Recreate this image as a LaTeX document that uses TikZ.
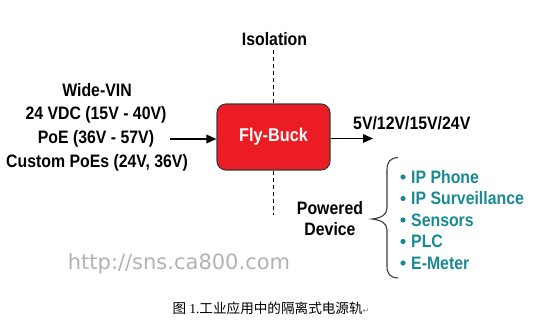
\documentclass[tikz,border=0pt]{standalone}
\usepackage{fontspec}
\setmainfont{Liberation Sans}
\newfontfamily\condb{Liberation Sans Bold}[FakeStretch=0.88]
\newfontfamily\cjk{Noto Sans CJK SC}
\newfontfamily\serifnum{Liberation Serif}
\newfontfamily\dejavu{DejaVu Sans}
\usetikzlibrary{arrows.meta}
\definecolor{flyred}{HTML}{EC1C24}
\definecolor{teal}{HTML}{198A94}
\definecolor{boxedge}{HTML}{3A3A3A}
\tikzset{
  lbl/.style={inner sep=0pt, font=\condb\fontsize{18}{20}\selectfont, text=black},
  item/.style={inner sep=0pt, anchor=west, font=\condb\fontsize{18}{20}\selectfont, text=teal},
  arr/.style={line width=1.8pt, -{Triangle[length=10pt,width=8.5pt]}},
  iso/.style={line width=1.2pt, dash pattern=on 4pt off 3pt},
  flybox/.style={draw=boxedge, line width=1.1pt, fill=flyred, rounded corners=9pt,
     minimum width=113pt, minimum height=66pt, inner sep=0pt,
     font=\condb\fontsize{18.5}{20}\selectfont, text=white}
}
\begin{document}
\begin{tikzpicture}[x=1pt,y=-1pt]
\useasboundingbox (0,0) rectangle (541,329);
% box
\node[flybox] (box) at (273.5,137) {Fly-Buck};
% isolation
\node[lbl] (iso) at (274.5,39) {Isolation};
\coordinate (isotop) at (273.5,50);
\coordinate (isobot) at (273.5,215);
\draw[iso] (isotop) -- (box.north);
\draw[iso] (box.south) -- (isobot);
% input text
\node[lbl] (wide) at (97,90) {Wide-VIN};
\node[lbl] (vdc) at (96,114.5) {24 VDC (15V - 40V)};
\node[lbl] (poe) at (96,139) {PoE (36V - 57V)};
\node[lbl] (cust) at (97,163) {Custom PoEs (24V, 36V)};
\draw[arr, shorten <=16pt] (poe.east) -- (poe.east -| box.west);
% output
\coordinate (out) at (373,138.5);
\draw[arr] (box.east |- out) -- (out);
\node[lbl, anchor=west] (volts) at (353,123) {5V/12V/15V/24V};
% powered device
\node[lbl] (pow) at (330,208) {Powered};
\node[lbl] (dev) at (330,229) {Device};
% brace
\draw[line width=1.1pt, boxedge] (398,157.5) .. controls (390,158) and (387,162) .. (387,170)
  -- (387,208) .. controls (387,215) and (381,218) .. (372,219)
  .. controls (381,220) and (387,223) .. (387,230)
  -- (387,266) .. controls (387,274) and (390,277.5) .. (398,278);
% bullet list
\foreach \n/\t/\y in {a/IP Phone/177, b/IP Surveillance/198.5, c/Sensors/220, d/PLC/241.5, e/E-Meter/263}{
  \fill[teal] (403,\y) circle (2.6pt);
  \node[item] (it\n) at (411,\y) {\t};
}
% watermark
\node[inner sep=0pt, font=\dejavu\fontsize{21}{22}\selectfont, text=gray!60] (wm) at (179,263.5) {http://sns.ca800.com};
% caption
\node[inner sep=0pt, font=\fontsize{13.6}{15}\selectfont] (cap) at (271,308)
  {\cjk 图 {\serifnum 1.}工业应用中的隔离式电源轨{\dejavu\fontsize{8}{9}\selectfont\color{gray}↵}};
\end{tikzpicture}
\end{document}
